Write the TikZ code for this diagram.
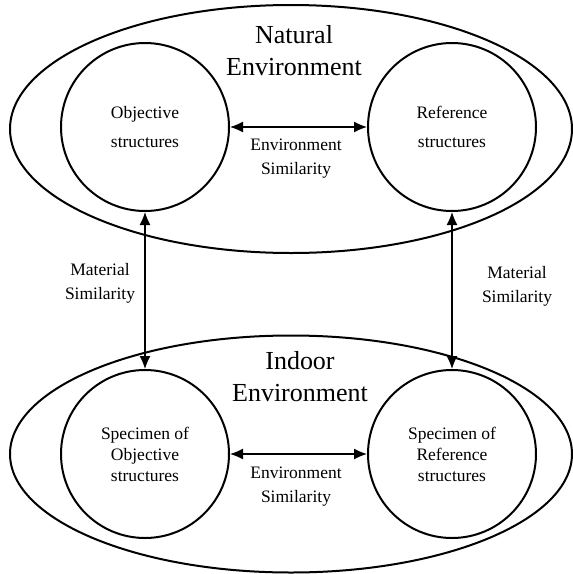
\documentclass[tikz,border=0pt]{standalone}
\usepackage{fontspec}
\setmainfont{Liberation Serif}[Ligatures=TeX]
\newfontfamily\labelface{Liberation Serif}
\usetikzlibrary{shapes.geometric,arrows.meta}
\begin{document}
\begin{tikzpicture}[x=1pt,y=-1pt,
  every node/.style={font=\labelface},
  envoval/.style={draw,line width=2pt,ellipse,inner sep=0pt},
  structcircle/.style={draw,line width=2pt,circle,minimum size=168pt,inner sep=0pt,align=center},
  envtitle/.style={align=center,inner sep=0pt,font=\labelface\fontsize{26}{32}\selectfont},
  relabel/.style={align=center,inner sep=0pt,font=\labelface\fontsize{17.5}{24}\selectfont},
  link/.style={line width=1.3pt,{Latex[length=13pt,width=11pt]}-{Latex[length=13pt,width=11pt]}}]
\useasboundingbox (0,0) rectangle (573,574);

% environments
\node[envoval,minimum width=562pt,minimum height=248pt] (natural) at (291,129) {};
\node[envoval,minimum width=562pt,minimum height=237pt] (indoor) at (291,454) {};
\node[envtitle] (naturaltitle) at (294,51) {Natural\\Environment};
\node[envtitle] (indoortitle) at (300,377) {Indoor\\Environment};

% structures
\node[structcircle,font=\labelface\fontsize{17.5}{29}\selectfont] (objective) at (145,127) {Objective\\structures};
\node[structcircle,font=\labelface\fontsize{17.5}{29}\selectfont] (reference) at (452,127) {Reference\\structures};
\node[structcircle,font=\labelface\fontsize{17.5}{21}\selectfont] (specobj) at (145,454) {Specimen of\\Objective\\structures};
\node[structcircle,font=\labelface\fontsize{17.5}{21}\selectfont] (specref) at (452,454) {Specimen of\\Reference\\structures};

% similarity links
\draw[link] (objective) -- (reference);
\draw[link] (specobj) -- (specref);
\draw[link] (objective.south) -- (specobj.north);
\draw[link] (reference.south) -- (specref.north);

\node[relabel] (envsimtop) at (296,159) {Environment\\Similarity};
\node[relabel] (envsimbot) at (296,487) {Environment\\Similarity};
\node[relabel] (matsimleft) at (100,283) {Material\\Similarity};
\node[relabel] (matsimright) at (517,286) {Material\\Similarity};
\end{tikzpicture}
\end{document}
